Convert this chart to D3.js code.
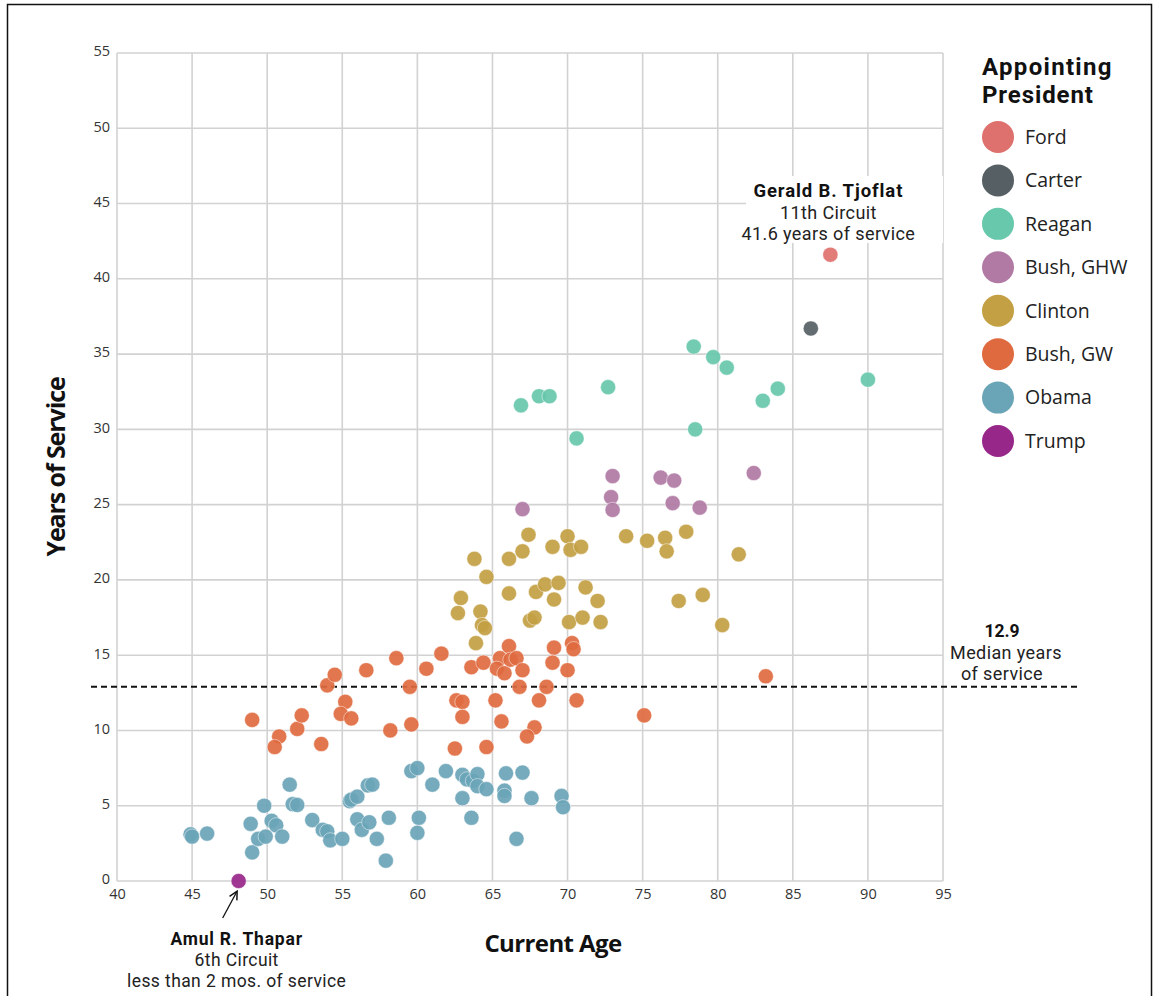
<!DOCTYPE html>
<html>
<head>
<meta charset="utf-8">
<script src="https://cdn.jsdelivr.net/npm/d3@7/dist/d3.min.js"></script>
<style>
  html, body { margin: 0; padding: 0; background: #fff; }
  svg { display: block; font-family: "Open Sans", "Noto Sans", sans-serif; }
  .ann { font-family: Roboto, "Open Sans", sans-serif; }
</style>
</head>
<body>
<svg id="chart" width="1154" height="996"></svg>
<script>
// ---------- DATA ----------
const presidents = ["Ford", "Carter", "Reagan", "Bush, GHW", "Clinton", "Bush, GW", "Obama", "Trump"];
const presidentColors = ["#de716d", "#566064", "#67c8ab", "#b07aa4", "#c3a043", "#df6a3f", "#6aa4b7", "#98278a"];

// [current age, years of service]
const fordJudges = [[87.5, 41.6]];
const carterJudges = [[86.2, 36.7]];
const reaganJudges = [[78.4,35.5],[79.7,34.8],[80.6,34.1],[84.0,32.7],[83.0,31.9],[90.0,33.3],[78.5,30.0],[72.7,32.8],[70.6,29.4],[68.1,32.2],[68.8,32.2],[66.9,31.6]];
const bushGHWJudges = [[73.0,26.9],[72.9,25.5],[73.0,24.65],[76.2,26.8],[77.1,26.6],[77.0,25.1],[78.8,24.8],[82.4,27.1],[67.0,24.7]];
const clintonJudges = [[67.4,23.0],[70.0,22.9],[69.0,22.2],[70.2,22.0],[70.9,22.2],[67.0,21.9],[66.1,21.4],[63.8,21.4],[64.6,20.2],[66.1,19.1],[62.9,18.8],[62.7,17.8],[64.2,17.9],[64.3,17.0],[64.5,16.8],[63.9,15.8],[67.9,19.2],[68.5,19.7],[69.4,19.8],[69.1,18.7],[71.2,19.5],[72.0,18.6],[67.5,17.3],[67.8,17.5],[70.1,17.2],[71.0,17.5],[72.2,17.2],[73.9,22.9],[75.3,22.6],[76.5,22.8],[76.6,21.9],[77.9,23.2],[81.4,21.7],[77.4,18.6],[79.0,19.0],[80.3,17.0]];
const bushGWJudges = [[49.0,10.7],[50.8,9.6],[50.5,8.9],[52.0,10.1],[52.3,11.0],[53.6,9.1],[54.0,13.0],[54.5,13.7],[55.2,11.9],[54.9,11.1],[55.6,10.8],[56.6,14.0],[58.6,14.8],[59.5,12.9],[59.6,10.4],[58.2,10.0],[60.6,14.1],[61.6,15.1],[63.6,14.2],[64.4,14.5],[65.5,14.8],[66.1,15.6],[65.3,14.1],[65.8,13.8],[66.2,14.7],[66.6,14.8],[67.0,14.0],[69.1,15.5],[69.0,14.5],[70.0,14.0],[70.3,15.8],[70.4,15.4],[66.8,12.9],[68.6,12.9],[62.6,12.0],[63.0,11.9],[63.0,10.9],[65.2,12.0],[65.6,10.6],[68.1,12.0],[70.6,12.0],[67.8,10.2],[67.3,9.6],[62.5,8.8],[64.6,8.9],[83.2,13.6],[75.1,11.0]];
const obamaJudges = [[44.9,3.1],[45.0,2.95],[46.0,3.15],[48.9,3.8],[49.0,1.9],[49.4,2.8],[49.9,2.95],[49.8,5.0],[50.3,4.0],[50.6,3.7],[51.0,2.95],[51.5,6.4],[51.7,5.1],[52.0,5.05],[53.0,4.05],[53.7,3.4],[54.0,3.3],[54.2,2.7],[55.0,2.8],[55.5,5.3],[55.6,5.4],[56.0,5.6],[56.0,4.1],[56.3,3.4],[56.8,3.9],[56.7,6.35],[57.0,6.4],[57.3,2.8],[58.1,4.2],[57.9,1.35],[59.6,7.3],[60.0,7.5],[60.1,4.2],[60.0,3.2],[61.0,6.4],[61.9,7.3],[63.0,7.05],[63.3,6.75],[63.7,6.65],[64.0,7.1],[64.0,6.3],[64.6,6.1],[63.0,5.5],[63.6,4.2],[65.9,7.15],[67.0,7.2],[65.8,6.0],[65.8,5.65],[67.6,5.5],[69.6,5.65],[69.7,4.9],[66.6,2.8]];
const trumpJudges = [[48.1, 0]];

const judgesByPresident = [fordJudges, carterJudges, reaganJudges, bushGHWJudges, clintonJudges, bushGWJudges, obamaJudges, trumpJudges];

const xTicks = [40,45,50,55,60,65,70,75,80,85,90,95];
const yTicks = [0,5,10,15,20,25,30,35,40,45,50,55];
const medianYears = 12.9;

// ---------- CHART ----------
const svg = d3.select("#chart");
const x = d3.scaleLinear().domain([40, 95]).range([117, 943]);
const y = d3.scaleLinear().domain([0, 55]).range([881, 53]);
const color = d3.scaleOrdinal().domain(presidents).range(presidentColors);

// frame border
svg.append("rect").attr("x", 7.5).attr("y", 4.5).attr("width", 1144).attr("height", 1010)
  .attr("fill", "none").attr("stroke", "#111").attr("stroke-width", 1.5);

// grid
const grid = svg.append("g");
grid.selectAll("line.v").data(xTicks).join("line")
  .attr("x1", d => x(d)).attr("x2", d => x(d)).attr("y1", y(0)).attr("y2", y(55))
  .attr("stroke", "#d2d2d2").attr("stroke-width", 1.6);
grid.selectAll("line.h").data(yTicks).join("line")
  .attr("x1", x(40)).attr("x2", x(95)).attr("y1", d => y(d)).attr("y2", d => y(d))
  .attr("stroke", "#d2d2d2").attr("stroke-width", 1.6);

// axes
const xAxis = svg.append("g").attr("transform", `translate(0,${y(0)})`)
  .call(d3.axisBottom(x).tickValues(xTicks).tickSize(0).tickPadding(4));
const yAxis = svg.append("g").attr("transform", `translate(${x(40)},0)`)
  .call(d3.axisLeft(y).tickValues(yTicks).tickSize(0).tickPadding(7));
[xAxis, yAxis].forEach(a => {
  a.select(".domain").remove();
  a.selectAll("text").attr("font-size", 14.5).attr("fill", "#333")
    .attr("font-family", "'Open Sans', sans-serif");
});
xAxis.selectAll("text").attr("dy", "0.95em");
yAxis.selectAll("text").attr("dy", "0.2em");

// axis titles
svg.append("text").attr("x", 553).attr("y", 952)
  .attr("text-anchor", "middle").attr("font-size", 24).attr("font-weight", 700)
  .attr("fill", "#111").attr("letter-spacing", -0.6).text("Current Age");
svg.append("text")
  .attr("transform", `translate(65,${(y(0) + y(55)) / 2}) rotate(-90)`)
  .attr("text-anchor", "middle").attr("font-size", 25).attr("font-weight", 700)
  .attr("fill", "#111").attr("letter-spacing", -1.1).text("Years of Service");

// median line
svg.append("line").attr("x1", 91).attr("x2", 1080)
  .attr("y1", y(medianYears)).attr("y2", y(medianYears))
  .attr("stroke", "#111").attr("stroke-width", 2).attr("stroke-dasharray", "6,4");

// Tjoflat annotation background + text
const tj = svg.append("g").attr("class", "ann");
tj.append("rect").attr("x", 746).attr("y", 176).attr("width", x(95) - 746).attr("height", 67).attr("fill", "#fff");
const tjx = x(87.5) - 2;
tj.append("text").attr("x", tjx).attr("y", 197).attr("text-anchor", "middle")
  .attr("font-size", 18.5).attr("font-weight", 700).attr("fill", "#111").attr("letter-spacing", 0.9).text("Gerald B. Tjoflat");
tj.append("text").attr("x", tjx).attr("y", 219).attr("text-anchor", "middle")
  .attr("font-size", 18).attr("fill", "#222").attr("letter-spacing", 0.4).text("11th Circuit");
tj.append("text").attr("x", tjx).attr("y", 240).attr("text-anchor", "middle")
  .attr("font-size", 18).attr("fill", "#222").attr("letter-spacing", 0.4).text("41.6 years of service");

// median annotation
const md = svg.append("g").attr("class", "ann");
md.append("text").attr("x", 1002).attr("y", 637).attr("text-anchor", "middle")
  .attr("font-size", 17.5).attr("font-weight", 700).attr("fill", "#111").text("12.9");
md.append("text").attr("x", 1006).attr("y", 659).attr("text-anchor", "middle")
  .attr("font-size", 18).attr("fill", "#222").attr("letter-spacing", 0.4).text("Median years");
md.append("text").attr("x", 1002).attr("y", 680).attr("text-anchor", "middle")
  .attr("font-size", 18).attr("fill", "#222").attr("letter-spacing", 0.4).text("of service");

// dots
const allJudges = [];
judgesByPresident.forEach((arr, i) => arr.forEach(d => allJudges.push({ pres: presidents[i], age: d[0], yrs: d[1] })));
svg.append("g").selectAll("circle").data(allJudges).join("circle")
  .attr("cx", d => x(d.age)).attr("cy", d => y(d.yrs)).attr("r", 7.6)
  .attr("fill", d => color(d.pres)).attr("fill-opacity", 0.92)
  .attr("stroke", "#fff").attr("stroke-width", 0.6).attr("stroke-opacity", 0.8);

// Thapar annotation
svg.append("defs").append("marker").attr("id", "arrow").attr("viewBox", "0 0 10 10")
  .attr("refX", 8).attr("refY", 5).attr("markerWidth", 8).attr("markerHeight", 8)
  .attr("orient", "auto-start-reverse")
  .append("path").attr("d", "M1,1 L9,5 L1,9").attr("fill", "none").attr("stroke", "#111").attr("stroke-width", 1.4);
svg.append("line").attr("x1", x(48.1) - 16).attr("y1", 918).attr("x2", x(48.1) - 2).attr("y2", 892)
  .attr("stroke", "#111").attr("stroke-width", 1.3).attr("marker-end", "url(#arrow)");
const th = svg.append("g").attr("class", "ann");
const thx = x(48.1) - 2;
th.append("text").attr("x", thx).attr("y", 945).attr("text-anchor", "middle")
  .attr("font-size", 17.5).attr("font-weight", 700).attr("fill", "#111").attr("letter-spacing", 0.8).text("Amul R. Thapar");
th.append("text").attr("x", thx).attr("y", 966).attr("text-anchor", "middle")
  .attr("font-size", 17.5).attr("fill", "#222").attr("letter-spacing", 0.4).text("6th Circuit");
th.append("text").attr("x", thx).attr("y", 987).attr("text-anchor", "middle")
  .attr("font-size", 17.5).attr("fill", "#222").attr("letter-spacing", 0.4).text("less than 2 mos. of service");

// legend
const lg = svg.append("g");
lg.append("text").attr("class", "ann").attr("x", 982).attr("y", 75).attr("font-size", 24).attr("font-weight", 700)
  .attr("fill", "#111").attr("letter-spacing", 1.3).text("Appointing");
lg.append("text").attr("class", "ann").attr("x", 982).attr("y", 103).attr("font-size", 24).attr("font-weight", 700)
  .attr("fill", "#111").attr("letter-spacing", 0.9).text("President");
const ly = d3.scalePoint().domain(presidents).range([137, 441]);
const items = lg.selectAll("g.item").data(presidents).join("g")
  .attr("transform", d => `translate(998,${ly(d)})`);
items.append("circle").attr("r", 16).attr("fill", d => color(d));
items.append("text").attr("x", 27).attr("dy", "0.35em").attr("font-size", 19.5)
  .attr("fill", "#222").text(d => d);
</script>
</body>
</html>
